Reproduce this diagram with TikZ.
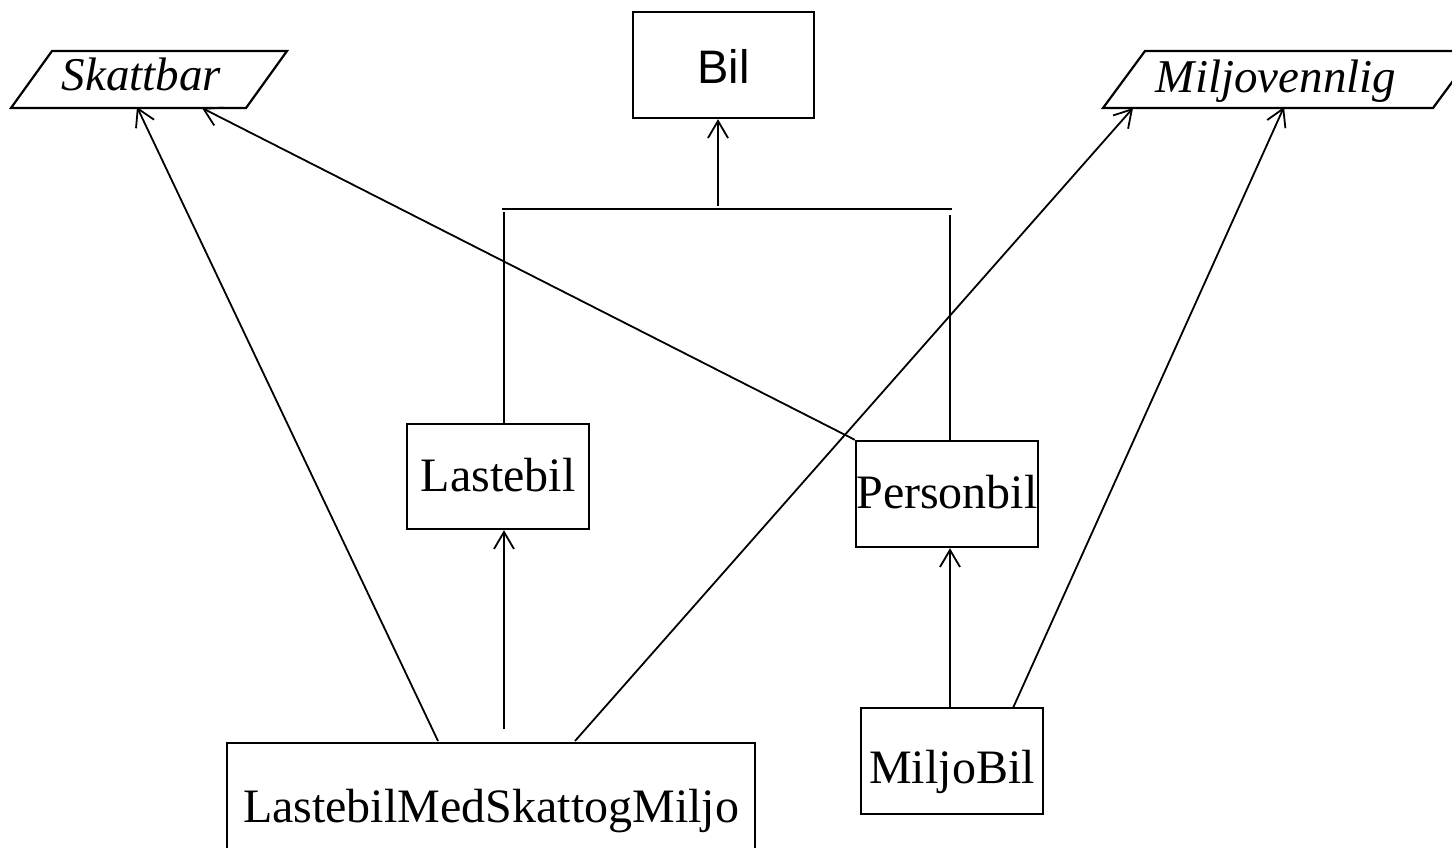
\documentclass[tikz,border=0pt]{standalone}
\usepackage{fontspec}
\setmainfont{Liberation Serif}
\newfontfamily\helv{Liberation Sans}
\usetikzlibrary{arrows.meta}
\tikzset{
  lw/.style={line width=1.8pt},
  cls/.style={draw, line width=2.4pt, rectangle, inner sep=0pt, text depth=0pt, font=\fontsize{48}{50}\selectfont},
  inh/.style={lw, -{Straight Barb[length=17pt,width=20pt,line width=1.8pt]}},
  link/.style={lw},
  iface/.style={draw, line width=2.2pt, line join=miter},
  ilabel/.style={anchor=base, inner sep=0pt, font=\fontsize{47}{50}\selectfont\itshape}
}
\begin{document}
\begin{tikzpicture}[x=1pt, y=-1pt]
\useasboundingbox (0,0) rectangle (1452,847);
% classes
\node[cls, minimum width=181pt, minimum height=106pt, text height=36pt, font=\fontsize{47}{50}\helv] (bil) at (723.5,65) {Bil};
\node[cls, minimum width=182pt, minimum height=105pt, text height=29pt] (laste) at (498,476.5) {Lastebil};
\node[cls, minimum width=182pt, minimum height=106pt, text height=28pt] (person) at (947,494) {Personbil};
\node[cls, minimum width=182pt, minimum height=106pt, text height=44pt] (miljobil) at (952,761) {MiljoBil};
\node[cls, minimum width=528pt, minimum height=108pt, text height=50pt] (lmsm) at (491,797) {LastebilMedSkattogMiljo};
% interfaces
\path[iface] (52,51) -- (287,51) -- (246,108) -- (11,108) -- cycle;
\node[ilabel] (skatt) at (141.5,90) {Skattbar};
\path[iface] (1145,51) -- (1475,51) -- (1433,108) -- (1103,108) -- cycle;
\node[ilabel] (miljo) at (1276,92.5) {Miljovennlig};
% connection points
\coordinate (bar1) at (718,206);
\coordinate (hl) at (502,209);
\coordinate (hr) at (952,209);
\coordinate (vl) at (504,212);
\coordinate (vr) at (950,215);
\coordinate (sk1) at (137,107);
\coordinate (sk2) at (202,108);
\coordinate (mv1) at (1133,108);
\coordinate (mv2) at (1284,107);
\coordinate (lm1) at (438,741);
\coordinate (lm2) at (504,729);
\coordinate (lm3) at (575,741);
\coordinate (mb1) at (1013,708);
% generalisation tree to Bil
\draw[inh] (bar1) -- (bil.south -| bar1);
\draw[link] (hl) -- (hr);
\draw[link] (vl) -- (laste.north -| vl);
\draw[link] (vr) -- (person.north -| vr);
% other arrows
\draw[inh] (lm2) -- (laste.south -| lm2);
\draw[inh] (miljobil.north -| vr) -- (person.south -| vr);
\draw[inh] (lm1) -- (sk1);
\draw[inh] (person.north west) -- (sk2);
\draw[inh] (lm3) -- (mv1);
\draw[inh] (mb1) -- (mv2);
\end{tikzpicture}
\end{document}
